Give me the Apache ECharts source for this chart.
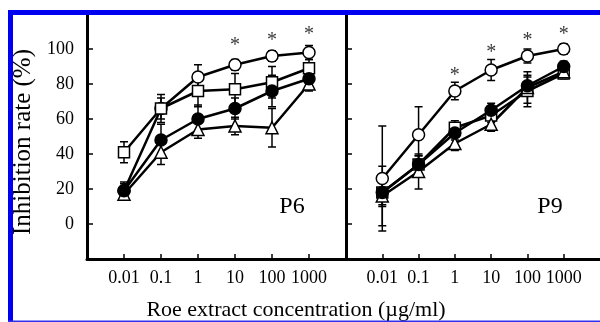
<!DOCTYPE html>
<html>
<head>
<meta charset="utf-8">
<script src="https://cdn.jsdelivr.net/npm/echarts@6/dist/echarts.min.js"></script>
<style>
  html, body { margin: 0; padding: 0; background: #fff; }
  #chart { width: 600px; height: 322px; }
</style>
</head>
<body>
<div id="chart"></div>
<script>
/** concentrations (ug/ml) and tick labels */
const conc = [0.01, 0.1, 1, 10, 100, 1000];
const xTickLabels = ["0.01", "0.1", "1", "10", "100", "1000"];
const yTicks = [0, 20, 40, 60, 80, 100];

/** P6 panel: mean and error */
const p6OpenCircle = [19, 66, 84, 91, 96, 98];
const p6OpenCircleErr = [4, 6, 7, 3, 3, 4];
const p6OpenSquare = [41, 66, 76, 77, 81, 89];
const p6OpenSquareErr = [6, 8, 9, 9, 9, 5];
const p6Triangle = [17, 41, 54, 56, 55, 80];
const p6TriangleErr = [3, 7, 5, 5, 11, 4];
const p6FilledCircle = [19, 48, 60, 66, 76, 83];
const p6FilledCircleErr = [5, 9, 8, 6, 9, 4];
const p6StarX = [10, 100, 1000];
const p6StarY = [102, 105, 108];

/** P9 panel: mean and error */
const p9OpenCircle = [26, 51, 76, 88, 96, 100];
const p9OpenCircleErr = [30, 16, 5, 6, 4, 3];
const p9OpenSquare = [18, 34, 55, 62, 76, 86];
const p9OpenSquareErr = [7, 5, 4, 4, 9, 3];
const p9Triangle = [16, 30, 46, 57, 78, 87];
const p9TriangleErr = [17, 10, 4, 4, 9, 3];
const p9FilledCircle = [18, 34, 52, 65, 79, 90];
const p9FilledCircleErr = [8, 5, 4, 4, 5, 3];
const p9StarX = [1, 10, 100, 1000];
const p9StarY = [85, 98, 105, 108];

const FONT = "'Liberation Serif', 'DejaVu Serif', serif";

/** marker styles for the four groups */
const markers = [
  { symbol: "circle", size: 12, fill: "#fff" },
  { symbol: "rect", size: 11, fill: "#fff" },
  { symbol: "triangle", size: 12, fill: "#fff" },
  { symbol: "circle", size: 12, fill: "#000" },
];

/** error bars as a custom series */
const errorSeries = (grid, values, errs) => ({
  type: "custom",
  xAxisIndex: grid,
  yAxisIndex: grid,
  z: 1,
  silent: true,
  data: conc.map((c, i) => [c, values[i], errs[i]]),
  encode: { x: 0, y: 1 },
  renderItem: (params, api) => {
    const x = api.value(0);
    const y = api.value(1);
    const e = api.value(2);
    const top = api.coord([x, y + e]);
    const bot = api.coord([x, y - e]);
    const w = 4;
    const style = { stroke: "#000", lineWidth: 1.5 };
    return {
      type: "group",
      children: [
        { type: "line", shape: { x1: top[0], y1: top[1], x2: bot[0], y2: bot[1] }, style },
        { type: "line", shape: { x1: top[0] - w, y1: top[1], x2: top[0] + w, y2: top[1] }, style },
        { type: "line", shape: { x1: bot[0] - w, y1: bot[1], x2: bot[0] + w, y2: bot[1] }, style },
      ],
    };
  },
});

const lineSeries = (grid, values, m) => ({
  type: "line",
  xAxisIndex: grid,
  yAxisIndex: grid,
  z: 2,
  data: conc.map((c, i) => [c, values[i]]),
  symbol: m.symbol,
  symbolSize: m.size,
  showAllSymbol: true,
  lineStyle: { color: "#000", width: 2.5 },
  itemStyle: { color: m.fill, borderColor: "#000", borderWidth: 1.5 },
  animation: false,
});

const starSeries = (grid, xs, ys) => ({
  type: "scatter",
  xAxisIndex: grid,
  yAxisIndex: grid,
  z: 3,
  symbolSize: 1,
  itemStyle: { color: "rgba(0,0,0,0)" },
  data: xs.map((x, i) => [x, ys[i]]),
  label: {
    show: true,
    formatter: "*",
    position: "inside",
    color: "#000",
    fontSize: 20,
    fontFamily: FONT,
  },
});

const panelSeries = (grid, groups, errs, starX, starY) => [
  ...groups.map((g, i) => errorSeries(grid, g, errs[i])),
  ...groups.map((g, i) => lineSeries(grid, g, markers[i])),
  starSeries(grid, starX, starY),
];

const xAxisFor = (grid) => ({
  type: "log",
  logBase: 10,
  gridIndex: grid,
  min: 0.001,
  max: 10000,
  axisLine: { show: true, onZero: false, lineStyle: { color: "#000", width: 3 } },
  axisTick: {
    show: true,
    inside: true,
    length: 5,
    lineStyle: { color: "#000", width: 1.5 },
    customValues: conc,
  },
  minorTick: { show: false },
  splitLine: { show: false },
  axisLabel: {
    color: "#000",
    fontSize: 18,
    fontFamily: FONT,
    margin: 10,
    customValues: conc,
    formatter: (v) => xTickLabels[Math.round(Math.log10(v)) + 2] ?? "",
  },
});

const yAxisFor = (grid, showLabels) => ({
  type: "value",
  gridIndex: grid,
  min: -20,
  max: 120,
  interval: 20,
  axisLine: { show: true, onZero: false, lineStyle: { color: "#000", width: 3 } },
  axisTick: {
    show: true,
    inside: true,
    length: 6,
    lineStyle: { color: "#000", width: 1.5 },
    customValues: yTicks,
  },
  splitLine: { show: false },
  axisLabel: {
    show: showLabels,
    color: "#000",
    fontSize: 18,
    fontFamily: FONT,
    margin: 13,
    customValues: yTicks,
  },
});

const chart = echarts.init(document.getElementById("chart"), null, { renderer: "canvas" });

chart.setOption({
  animation: false,
  backgroundColor: "#fff",
  grid: [
    { left: 87, top: 14, width: 259, height: 245 },
    { left: 346, top: 14, width: 259, height: 245 },
  ],
  xAxis: [xAxisFor(0), xAxisFor(1)],
  yAxis: [yAxisFor(0, true), yAxisFor(1, false)],
  series: [
    ...panelSeries(
      0,
      [p6OpenCircle, p6OpenSquare, p6Triangle, p6FilledCircle],
      [p6OpenCircleErr, p6OpenSquareErr, p6TriangleErr, p6FilledCircleErr],
      p6StarX,
      p6StarY
    ),
    ...panelSeries(
      1,
      [p9OpenCircle, p9OpenSquare, p9Triangle, p9FilledCircle],
      [p9OpenCircleErr, p9OpenSquareErr, p9TriangleErr, p9FilledCircleErr],
      p9StarX,
      p9StarY
    ),
  ],
  graphic: [
    /** blue frame */
    { type: "rect", shape: { x: 8, y: 10, width: 592, height: 5 }, style: { fill: "#0000f0" }, z: 10 },
    { type: "rect", shape: { x: 8, y: 10, width: 5, height: 312 }, style: { fill: "#0000f0" }, z: 10 },
    { type: "rect", shape: { x: 8, y: 320.5, width: 592, height: 1.5 }, style: { fill: "#3030f0" }, z: 10 },
    /** axis names and panel labels */
    {
      type: "text",
      x: 296,
      y: 310,
      z: 5,
      style: {
        text: "Roe extract concentration (\u00b5g/ml)",
        font: `22px ${FONT}`,
        fill: "#000",
        align: "center",
        verticalAlign: "middle",
      },
    },
    {
      type: "text",
      x: 23,
      y: 142,
      rotation: Math.PI / 2,
      z: 5,
      style: {
        text: "Inhibition rate (%)",
        font: `25px ${FONT}`,
        fill: "#000",
        align: "center",
        verticalAlign: "middle",
      },
    },
    {
      type: "text",
      x: 292,
      y: 207,
      z: 5,
      style: { text: "P6", font: `24px ${FONT}`, fill: "#000", align: "center", verticalAlign: "middle" },
    },
    {
      type: "text",
      x: 550,
      y: 207,
      z: 5,
      style: { text: "P9", font: `24px ${FONT}`, fill: "#000", align: "center", verticalAlign: "middle" },
    },
  ],
});
</script>
</body>
</html>
